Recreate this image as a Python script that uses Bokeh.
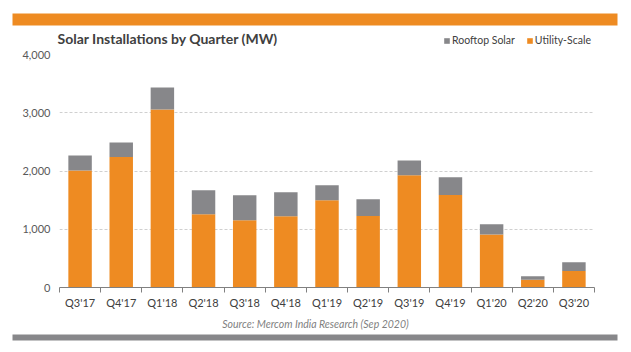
from bokeh.plotting import figure
from bokeh.layouts import column
from bokeh.models import (ColumnDataSource, Range1d, FixedTicker, NumeralTickFormatter,
                          Legend, LegendItem)
from bokeh.core.properties import value
from bokeh.embed import file_html
from bokeh.resources import INLINE

quarters = ["Q3'17", "Q4'17", "Q1'18", "Q2'18", "Q3'18", "Q4'18", "Q1'19",
            "Q2'19", "Q3'19", "Q4'19", "Q1'20", "Q2'20", "Q3'20"]
utility = [2010, 2240, 3057, 1257, 1154, 1222, 1497, 1228, 1925, 1588, 908, 131, 285]
rooftop = [258, 250, 377, 411, 428, 412, 257, 286, 257, 303, 177, 63, 149]
y_ticks = [0, 1000, 2000, 3000, 4000]
series_names = ["Rooftop Solar", "Utility-Scale"]
title_text = "Solar Installations by Quarter (MW)"
source_text = "Source: Mercom India Research (Sep 2020)"

ORANGE = "#EE8B22"
GRAY = "#87878A"
FONT = "Lato"
W = 631


def blank(h):
    f = figure(width=W, height=h, output_backend="svg", toolbar_location=None,
               x_range=Range1d(0, W), y_range=Range1d(h, 0),
               x_axis_type=None, y_axis_type=None,
               min_border=0, min_border_left=0, min_border_right=0,
               min_border_top=0, min_border_bottom=0, frame_align=False)
    f.outline_line_color = None
    f.grid.visible = False
    return f


# ---- header ----
TOP_H = 46
top = blank(TOP_H)
top.quad(left=12, right=617, top=13, bottom=25, color=ORANGE, line_color=None)
top.text(x=[57], y=[38], text=[title_text], text_font=value(FONT),
         text_font_size="14px", text_color="#404040", text_font_style="bold",
         text_baseline="middle")
# zero-area stand-ins that carry the legend swatches
d_roof = top.quad(left=[0], right=[0], top=[0], bottom=[0], color=GRAY, line_color=None)
d_util = top.quad(left=[0], right=[0], top=[0], bottom=[0], color=ORANGE, line_color=None)
leg = Legend(items=[LegendItem(label=series_names[0], renderers=[d_roof]),
                    LegendItem(label=series_names[1], renderers=[d_util])],
             orientation="horizontal", location=(443, 0),
             glyph_width=7, glyph_height=7, label_text_font=FONT,
             label_text_font_size="10.5px", label_text_color="#404040",
             padding=0, margin=0, spacing=11, label_standoff=2,
             background_fill_alpha=0, border_line_color=None)
top.add_layout(leg, "center")

# ---- main chart ----
xs = list(range(len(quarters)))
src = ColumnDataSource(dict(x=xs, utility=utility, rooftop=rooftop))

p = figure(width=W, height=266, output_backend="svg", toolbar_location=None,
           x_range=Range1d(-0.5, len(quarters) - 0.5), y_range=Range1d(0, 4000),
           min_border_left=59, min_border_right=37, min_border_top=8, min_border_bottom=25,
           frame_align=False)
p.outline_line_color = None

p.vbar_stack(["utility", "rooftop"], x="x", width=0.57, source=src,
             color=[ORANGE, GRAY], line_color=None)

p.xaxis.ticker = FixedTicker(ticks=xs, minor_ticks=[i - 0.5 for i in range(len(quarters) + 1)])
p.xaxis.major_label_overrides = {i: q for i, q in enumerate(quarters)}
p.xaxis.major_tick_line_color = None
p.xaxis.major_tick_out = 0
p.xaxis.minor_tick_line_color = "#808080"
p.xaxis.minor_tick_out = 5
p.xaxis.minor_tick_in = 0
p.xaxis.axis_line_color = "#808080"
p.xaxis.major_label_text_font = FONT
p.xaxis.major_label_text_font_size = "11px"
p.xaxis.major_label_text_color = "#404040"
p.xaxis.major_label_standoff = 3

p.yaxis.ticker = FixedTicker(ticks=y_ticks, minor_ticks=[])
p.yaxis.formatter = NumeralTickFormatter(format="0,0")
p.yaxis.axis_line_color = None
p.yaxis.major_tick_line_color = None
p.yaxis.major_tick_out = 0
p.yaxis.minor_tick_line_color = None
p.yaxis.major_label_text_font = FONT
p.yaxis.major_label_text_font_size = "11px"
p.yaxis.major_label_text_color = "#595959"
p.yaxis.major_label_standoff = 9

p.xgrid.grid_line_color = None
p.ygrid.grid_line_color = "#D0D0D0"
p.ygrid.grid_line_dash = "3 2"
p.ygrid.ticker = FixedTicker(ticks=y_ticks[1:])

# ---- footer ----
BOT_H = 352 - TOP_H - 266
bot = blank(BOT_H)
bot.text(x=[315], y=[11], text=[source_text], text_font=value(FONT),
         text_font_size="10.5px", text_color="#7F7F7F", text_font_style="italic",
         text_align="center", text_baseline="middle")
bot.quad(left=12, right=617, top=22, bottom=28, color=GRAY, line_color=None)

layout = column(top, p, bot, spacing=0)
open("out.html", "w").write(file_html(layout, INLINE))
